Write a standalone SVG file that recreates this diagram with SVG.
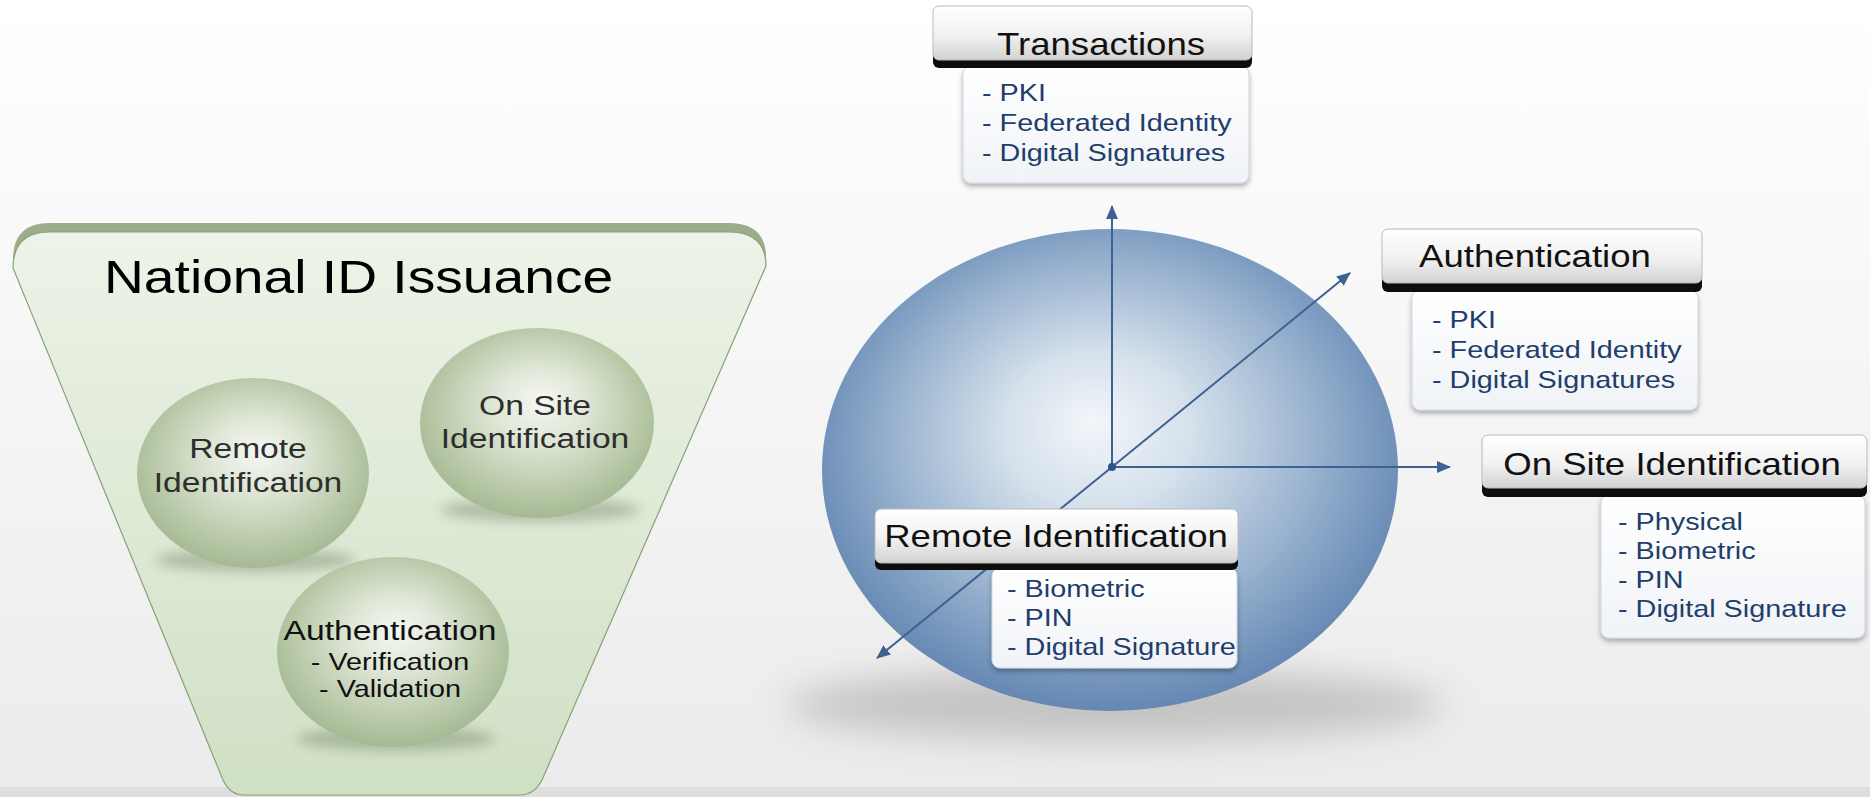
<svg xmlns="http://www.w3.org/2000/svg" width="1870" height="797" viewBox="0 0 1870 797">
<style>
  text { font-family: "Liberation Sans", Arial, sans-serif; }
  .hdr { font-size: 30.5px; fill: #111; text-anchor: middle; }
  .itm { font-size: 24px; fill: #1f3e6b; }
  .sph { font-size: 28px; fill: #2e2e2e; text-anchor: middle; }
  .sub { font-size: 24px; fill: #111; text-anchor: middle; }
  .title { font-size: 46px; fill: #000; }
  .axis { stroke: #3d6190; stroke-width: 2; fill: none; }
  .hbar { fill: #0d0d0d; }
  .hface { fill: url(#hdrGrad); stroke: #b9b9b9; stroke-width: 1; }
  .body { fill: url(#bodyGrad); stroke: #cfd5dd; stroke-width: 1; filter: url(#drop); }
  .ball { fill: url(#greenBall); }
  .ballShadow { fill: #5f7050; opacity: 0.35; filter: url(#blur6); }
</style>
<defs>
  <linearGradient id="bg" x1="0" y1="0" x2="0" y2="1">
    <stop offset="0" stop-color="#ffffff"/>
    <stop offset="1" stop-color="#ebebeb"/>
  </linearGradient>
  <linearGradient id="faceGrad" x1="0" y1="0" x2="0" y2="1">
    <stop offset="0" stop-color="#edf3e8"/>
    <stop offset="1" stop-color="#d0e0c4"/>
  </linearGradient>
  <radialGradient id="greenBall" cx="0.5" cy="0.45" r="0.55" fx="0.52" fy="0.38">
    <stop offset="0" stop-color="#f6f7f3"/>
    <stop offset="0.35" stop-color="#dfe7d7"/>
    <stop offset="0.8" stop-color="#b7c8a6"/>
    <stop offset="1" stop-color="#a5b993"/>
  </radialGradient>
  <radialGradient id="blueBall" cx="0.5" cy="0.46" r="0.55" fx="0.47" fy="0.4">
    <stop offset="0" stop-color="#f3f6fa"/>
    <stop offset="0.3" stop-color="#d4e0eb"/>
    <stop offset="0.65" stop-color="#9bb4d0"/>
    <stop offset="0.9" stop-color="#7192ba"/>
    <stop offset="1" stop-color="#6385b0"/>
  </radialGradient>
  <linearGradient id="hdrGrad" x1="0" y1="0" x2="0" y2="1">
    <stop offset="0" stop-color="#ffffff"/>
    <stop offset="0.55" stop-color="#f1f1f1"/>
    <stop offset="1" stop-color="#d2d2d2"/>
  </linearGradient>
  <linearGradient id="bodyGrad" x1="0" y1="0" x2="0" y2="1">
    <stop offset="0" stop-color="#ffffff"/>
    <stop offset="1" stop-color="#f0f3f7"/>
  </linearGradient>
  <filter id="drop" x="-10%" y="-10%" width="120%" height="130%">
    <feDropShadow dx="0" dy="3" stdDeviation="2.5" flood-color="#000" flood-opacity="0.3"/>
  </filter>
  <filter id="blur6" x="-30%" y="-100%" width="160%" height="300%">
    <feGaussianBlur stdDeviation="6"/>
  </filter>
  <filter id="blur16" x="-30%" y="-100%" width="160%" height="300%">
    <feGaussianBlur stdDeviation="18"/>
  </filter>
  <marker id="arrow" markerUnits="userSpaceOnUse" markerWidth="14" markerHeight="12" refX="13" refY="6" orient="auto">
    <path d="M0,0 L14,6 L0,12 Z" fill="#3d6190"/>
  </marker>
</defs>

<rect x="0" y="0" width="1870" height="797" fill="url(#bg)"/>
<rect x="0" y="787" width="1870" height="10" fill="#dedede"/>

<g id="national-id-issuance">
  <path d="M13,259 Q13,223 50,223 L728,223 Q766,223 766,257 L542,771 Q534,786 520,786 L244,786 Q230,786 223,771 Z" fill="#9dad8b"/>
  <path d="M13,268 Q13,232 50,232 L728,232 Q766,232 766,266 L542,780 Q534,795 520,795 L244,795 Q230,795 223,780 Z" fill="url(#faceGrad)" stroke="#86a276" stroke-width="1.2"/>
  <text class="title" transform="translate(104 293) scale(1.2 1)">National ID Issuance</text>
</g>

<g id="sphere-remote">
  <ellipse class="ballShadow" cx="255" cy="560" rx="100" ry="12"/>
  <ellipse class="ball" cx="253" cy="473" rx="116" ry="95"/>
  <text class="sph" transform="translate(248 458) scale(1.2 1)">Remote</text>
  <text class="sph" transform="translate(248 492) scale(1.2 1)">Identification</text>
</g>

<g id="sphere-onsite">
  <ellipse class="ballShadow" cx="540" cy="510" rx="100" ry="12"/>
  <ellipse class="ball" cx="537" cy="423" rx="117" ry="95"/>
  <text class="sph" transform="translate(535 415) scale(1.2 1)">On Site</text>
  <text class="sph" transform="translate(535 448) scale(1.2 1)">Identification</text>
</g>

<g id="sphere-authentication">
  <ellipse class="ballShadow" cx="396" cy="739" rx="100" ry="12"/>
  <ellipse class="ball" cx="393" cy="652" rx="116" ry="95"/>
  <text class="sph" style="fill:#111" transform="translate(390 640) scale(1.2 1)">Authentication</text>
  <text class="sub" transform="translate(390 670) scale(1.2 1)">- Verification</text>
  <text class="sub" transform="translate(390 697) scale(1.2 1)">- Validation</text>
</g>

<g id="globe">
  <ellipse cx="1115" cy="705" rx="330" ry="36" fill="#777777" opacity="0.35" filter="url(#blur16)"/>
  <ellipse cx="1110" cy="470" rx="288" ry="241" fill="url(#blueBall)"/>
</g>

<g id="connectors">
  <line class="axis" x1="1112" y1="467" x2="1112" y2="206" marker-end="url(#arrow)"/>
  <line class="axis" x1="1112" y1="467" x2="1450" y2="467" marker-end="url(#arrow)"/>
  <line class="axis" x1="1112" y1="467" x2="1350" y2="273" marker-end="url(#arrow)"/>
  <line class="axis" x1="1112" y1="467" x2="877" y2="658" marker-end="url(#arrow)"/>
  <circle cx="1112" cy="467" r="4" fill="#2f5485"/>
</g>

<g id="box-transactions">
  <rect class="body" x="963" y="66" width="286" height="117" rx="8"/>
  <rect class="hbar" x="933" y="20" width="319" height="48" rx="6"/>
  <rect class="hface" x="933" y="6" width="319" height="54" rx="6"/>
  <text class="hdr" transform="translate(1101 55) scale(1.2 1)">Transactions</text>
  <text class="itm" transform="translate(982 101) scale(1.2 1)"><tspan x="0" y="0">- PKI</tspan><tspan x="0" y="30">- Federated Identity</tspan><tspan x="0" y="60">- Digital Signatures</tspan></text>
</g>

<g id="box-authentication">
  <rect class="body" x="1412" y="290" width="286" height="120" rx="8"/>
  <rect class="hbar" x="1382" y="243" width="320" height="49" rx="6"/>
  <rect class="hface" x="1382" y="229" width="320" height="54" rx="6"/>
  <text class="hdr" transform="translate(1535 267) scale(1.2 1)">Authentication</text>
  <text class="itm" transform="translate(1432 328) scale(1.2 1)"><tspan x="0" y="0">- PKI</tspan><tspan x="0" y="30">- Federated Identity</tspan><tspan x="0" y="60">- Digital Signatures</tspan></text>
</g>

<g id="box-onsite">
  <rect class="body" x="1601" y="495" width="264" height="143" rx="8"/>
  <rect class="hbar" x="1482" y="449" width="385" height="48" rx="6"/>
  <rect class="hface" x="1482" y="435" width="385" height="53" rx="6"/>
  <text class="hdr" transform="translate(1672 475) scale(1.2 1)">On Site Identification</text>
  <text class="itm" transform="translate(1618 530) scale(1.2 1)"><tspan x="0" y="0">- Physical</tspan><tspan x="0" y="29">- Biometric</tspan><tspan x="0" y="58">- PIN</tspan><tspan x="0" y="87">- Digital Signature</tspan></text>
</g>

<g id="box-remote">
  <rect class="body" x="992" y="568" width="245" height="100" rx="8"/>
  <rect class="hbar" x="875" y="523" width="363" height="47" rx="6"/>
  <rect class="hface" x="875" y="509" width="363" height="54" rx="6"/>
  <text class="hdr" transform="translate(1056 547) scale(1.2 1)">Remote Identification</text>
  <text class="itm" transform="translate(1007 597) scale(1.2 1)"><tspan x="0" y="0">- Biometric</tspan><tspan x="0" y="29">- PIN</tspan><tspan x="0" y="58">- Digital Signature</tspan></text>
</g>
</svg>
